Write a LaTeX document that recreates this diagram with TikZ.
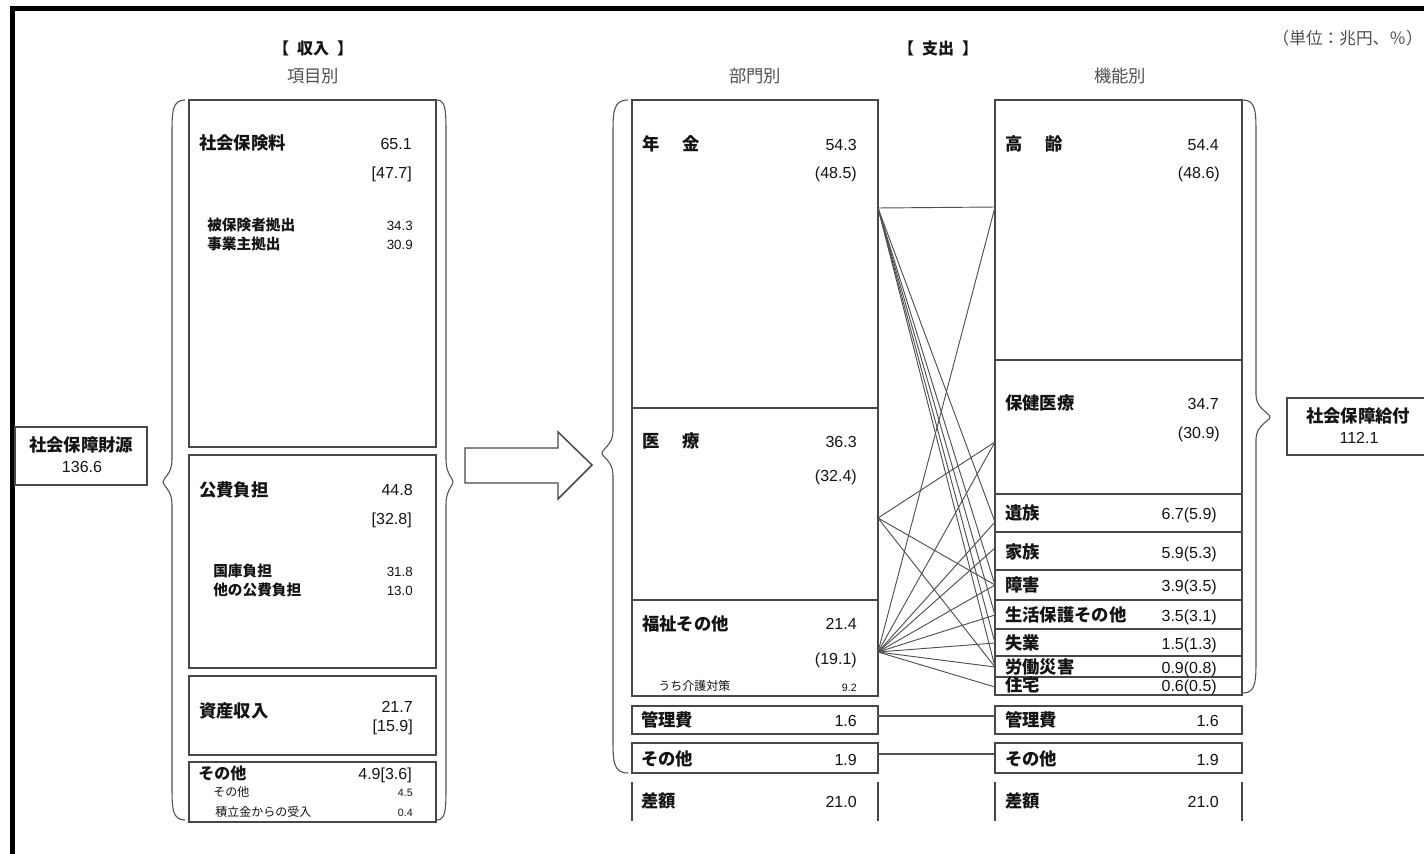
\documentclass[tikz,border=0pt]{standalone}
\usepackage{fontspec}
\setmainfont{Noto Sans CJK JP}
\newfontfamily\numf{Liberation Sans}
\usetikzlibrary{fit}
\definecolor{boxc}{HTML}{484848}
\definecolor{linec}{HTML}{505050}
\definecolor{txt}{HTML}{141414}
\definecolor{subtxt}{HTML}{505050}
\newcommand\mybrace[6]{% xin, xmid, xtip, top, mid, bot
  \draw[bracec] (#1,#4) .. controls (#2,#4) and (#2,#4+12) .. (#2,#4+35) -- (#2,#5-22)
    .. controls (#2,#5-8) and (#3,#5-4) .. (#3,#5)
    .. controls (#3,#5+4) and (#2,#5+8) .. (#2,#5+22) -- (#2,#6-35)
    .. controls (#2,#6-12) and (#2,#6) .. (#1,#6);}
\begin{document}
\begin{tikzpicture}[x=0.75pt,y=-0.75pt,
  box/.style={draw=boxc, line width=1.1pt, inner sep=0pt},
  conn/.style={draw=linec, line width=0.7pt},
  bracec/.style={draw=linec, line width=0.8pt},
  lab/.style={anchor=west, inner sep=0pt, text depth=0pt, text height=9.75pt, font=\fontsize{13}{13}\selectfont\bfseries, text=txt},
  mlab/.style={anchor=west, inner sep=0pt, text depth=0pt, text height=9pt, font=\fontsize{12}{12}\selectfont\bfseries, text=txt},
  num/.style={anchor=east, inner sep=0pt, text depth=0pt, text height=9pt, font=\numf\fontsize{12}{12}\selectfont, text=txt},
  slab/.style={anchor=west, inner sep=0pt, text depth=0pt, text height=8.25pt, font=\fontsize{11}{11}\selectfont\bfseries, text=txt},
  snum/.style={anchor=east, inner sep=0pt, text depth=0pt, text height=7.5pt, font=\numf\fontsize{10}{10}\selectfont, text=txt},
  tlab/.style={anchor=west, inner sep=0pt, text depth=0pt, text height=6.75pt, font=\fontsize{9}{9}\selectfont, text=txt},
  tnum/.style={anchor=east, inner sep=0pt, text depth=0pt, text height=6pt, font=\numf\fontsize{8}{8}\selectfont, text=txt},
  head/.style={inner sep=0pt, text depth=0pt, text height=9pt, font=\fontsize{12}{12}\selectfont\bfseries, text=txt},
  sub/.style={inner sep=0pt, text depth=0pt, text height=9.75pt, font=\fontsize{13}{13}\selectfont, text=subtxt},
  cnum/.style={inner sep=0pt, text depth=0pt, text height=9pt, font=\numf\fontsize{12}{12}\selectfont, text=txt},
  clab/.style={inner sep=0pt, text depth=0pt, text height=9.75pt, font=\fontsize{13}{13}\selectfont\bfseries, text=txt},
]
\useasboundingbox (0,0) rectangle (1424,853);
\fill[white] (0,0) rectangle (1424,853);
% outer frame
\draw[line width=3.75pt, black] (12,870) -- (12,8.5) -- (1440,8.5);

% headers
\node[head] (hIn) at (313,48) {【\hspace{0.5em}収入\hspace{0.5em}】};
\node[sub] (hIn2) at (313,76) {項目別};
\node[head] (hOut) at (938,48) {【\hspace{0.5em}支出\hspace{0.5em}】};
\node[sub] (hOut1) at (755,76) {部門別};
\node[sub] (hOut2) at (1120,76) {機能別};
\node[anchor=east, inner sep=0pt, text depth=0pt, text height=9.4pt, font=\fontsize{12.5}{12.5}\selectfont, text=subtxt] (unit) at (1423,38) {（単位：兆円、％）};

% left source box
\node[box, fit={(15,427)(147,485)}] (src) {};
\node[clab] (srcT) at (81,445) {社会保障財源};
\node[cnum] (srcN) at (82,466) {136.6};

% income boxes
\node[box, fit={(189,100)(436,447)}] (inA) {};
\node[box, fit={(189,455)(436,668)}] (inB) {};
\node[box, fit={(189,676)(436,755)}] (inC) {};
\node[box, fit={(189,762)(436,822)}] (inD) {};
\mybrace{185}{172}{163}{100}{482}{820}
\mybrace{437}{446}{453}{100}{482}{820}

\node[lab] (a1) at (199,143) {社会保険料};
\node[num] (a2) at (412,143) {65.1};
\node[num] (a3) at (412,172) {[47.7]};
\node[slab] (a4) at (207,225) {被保険者拠出};
\node[snum] (a5) at (413,225) {34.3};
\node[slab] (a6) at (207,244) {事業主拠出};
\node[snum] (a7) at (413,244) {30.9};

\node[lab] (b1) at (199,490) {公費負担};
\node[num] (b2) at (413,489) {44.8};
\node[num] (b3) at (412,518) {[32.8]};
\node[slab] (b4) at (213,571) {国庫負担};
\node[snum] (b5) at (413,571) {31.8};
\node[slab] (b6) at (213,590) {他の公費負担};
\node[snum] (b7) at (413,590) {13.0};

\node[lab] (c1) at (199,711) {資産収入};
\node[num] (c2) at (413,706) {21.7};
\node[num] (c3) at (413,725) {[15.9]};

\node[mlab] (d1) at (198,773) {その他};
\node[num] (d2) at (412,773) {4.9[3.6]};
\node[tlab] (d3) at (213,792) {その他};
\node[tnum] (d4) at (413,792) {4.5};
\node[tlab] (d5) at (215,812) {積立金からの受入};
\node[tnum] (d6) at (413,812) {0.4};

% arrow
\draw[draw=boxc, line width=1.1pt, fill=white] (465,448) -- (558,448) -- (558,432) -- (592,465) -- (558,499) -- (558,483) -- (465,483) -- cycle;

% expenditure by sector
\node[box, fit={(632,100)(878,408)}] (bu1) {};
\node[box, fit={(632,408)(878,600)}] (bu2) {};
\node[box, fit={(632,600)(878,696)}] (bu3) {};
\node[box, fit={(632,706)(878,734)}] (bu4) {};
\node[box, fit={(632,743)(878,773)}] (bu5) {};
\draw[draw=boxc, line width=1.1pt] (632,782) -- (632,821) (878,782) -- (878,821);
\mybrace{628}{613}{602}{100}{453}{773}

\node[lab] (e1) at (642,144) {年\hspace{1.3em}金};
\node[num] (e2) at (857,144) {54.3};
\node[num] (e3) at (857,172) {(48.5)};
\node[lab] (e4) at (642,441) {医\hspace{1.3em}療};
\node[num] (e5) at (857,441) {36.3};
\node[num] (e6) at (857,475) {(32.4)};
\node[lab] (e7) at (642,624) {福祉その他};
\node[num] (e8) at (857,623) {21.4};
\node[num] (e9) at (857,658) {(19.1)};
\node[tlab] (e10) at (658,686) {うち介護対策};
\node[tnum] (e11) at (857,687) {9.2};
\node[lab] (e12) at (641,720) {管理費};
\node[num] (e13) at (857,720) {1.6};
\node[lab] (e14) at (641,759) {その他};
\node[num] (e15) at (857,759) {1.9};
\node[lab] (e16) at (641,801) {差額};
\node[num] (e17) at (857,801) {21.0};

% expenditure by function
\node[box, fit={(995,100)(1242,360)}] (ki1) {};
\node[box, fit={(995,360)(1242,494)}] (ki2) {};
\node[box, fit={(995,494)(1242,532)}] (ki3) {};
\node[box, fit={(995,532)(1242,570)}] (ki4) {};
\node[box, fit={(995,570)(1242,600)}] (ki5) {};
\node[box, fit={(995,600)(1242,629)}] (ki6) {};
\node[box, fit={(995,629)(1242,656)}] (ki7) {};
\node[box, fit={(995,656)(1242,677)}] (ki8) {};
\node[box, fit={(995,677)(1242,695)}] (ki9) {};
\node[box, fit={(995,706)(1242,734)}] (ki10) {};
\node[box, fit={(995,743)(1242,773)}] (ki11) {};
\draw[draw=boxc, line width=1.1pt] (995,782) -- (995,821) (1242,782) -- (1242,821);
\mybrace{1243}{1256}{1270}{100}{417}{693}

\node[lab] (f1) at (1005,144) {高\hspace{1.3em}齢};
\node[num] (f2) at (1219,144) {54.4};
\node[num] (f3) at (1220,172) {(48.6)};
\node[lab] (f4) at (1005,403) {保健医療};
\node[num] (f5) at (1219,403) {34.7};
\node[num] (f6) at (1220,432) {(30.9)};
\node[lab] (f7) at (1005,513) {遺族};
\node[num] (f8) at (1217,513) {6.7(5.9)};
\node[lab] (f9) at (1005,552) {家族};
\node[num] (f10) at (1217,552) {5.9(5.3)};
\node[lab] (f11) at (1005,585) {障害};
\node[num] (f12) at (1217,585) {3.9(3.5)};
\node[lab] (f13) at (1005,615) {生活保護その他};
\node[num] (f14) at (1217,615) {3.5(3.1)};
\node[lab] (f15) at (1005,643) {失業};
\node[num] (f16) at (1217,643) {1.5(1.3)};
\node[lab] (f17) at (1005,667) {労働災害};
\node[num] (f18) at (1217,667) {0.9(0.8)};
\node[lab] (f19) at (1005,685) {住宅};
\node[num] (f20) at (1217,685) {0.6(0.5)};
\node[lab] (f21) at (1005,720) {管理費};
\node[num] (f22) at (1219,720) {1.6};
\node[lab] (f23) at (1005,759) {その他};
\node[num] (f24) at (1219,759) {1.9};
\node[lab] (f25) at (1005,801) {差額};
\node[num] (f26) at (1219,801) {21.0};

% benefits box
\node[box, fit={(1287,398)(1430,455)}] (kyufu) {};
\node[clab] (kyT) at (1358,416) {社会保障給付};
\node[cnum] (kyN) at (1359,437) {112.1};

% connection points
\coordinate (oP) at (878,208);
\coordinate (oM) at (878,518);
\coordinate (oW) at (878,652);
\coordinate (iK) at (995,207);
\coordinate (iH) at (995,442);
\coordinate (iI) at (995,522);
\coordinate (iF) at (995,548);
\coordinate (iS) at (995,585);
\coordinate (iL) at (995,615);
\coordinate (iU) at (995,643);
\coordinate (iR) at (995,667);
\coordinate (iJ) at (995,687);
\coordinate (oKa) at (878,716);
\coordinate (iKa) at (995,716);
\coordinate (oSo) at (878,754);
\coordinate (iSo) at (995,754);

\foreach \t in {iK,iI,iS,iL,iU,iR} \draw[conn] (oP) -- (\t);
\foreach \t in {iH,iS,iR} \draw[conn] (oM) -- (\t);
\foreach \t in {iK,iH,iI,iF,iS,iL,iU,iR,iJ} \draw[conn] (oW) -- (\t);
\draw[conn, line width=1pt] (oKa) -- (iKa);
\draw[conn, line width=1pt] (oSo) -- (iSo);
\end{tikzpicture}
\end{document}
